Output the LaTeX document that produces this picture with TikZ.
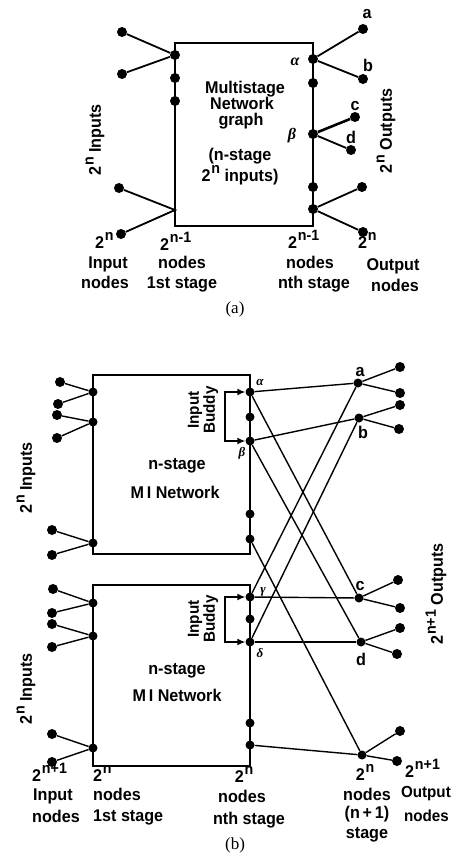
\documentclass[tikz,border=0pt]{standalone}
\usepackage{fontspec}
\setmainfont{Liberation Sans}[FakeStretch=0.95]
\newfontfamily\grk{Liberation Serif}
\newfontfamily\capf{Liberation Serif}
\usetikzlibrary{arrows.meta}
\newcommand{\pw}[1]{\raisebox{0.42em}{\fontsize{15pt}{15pt}\selectfont\kern0.8pt #1}}
\begin{document}
\begin{tikzpicture}[x=1pt,y=-1pt,
  lab/.style={font=\fontsize{17pt}{17pt}\selectfont\bfseries, inner sep=0pt, anchor=base},
  rlab/.style={font=\fontsize{17pt}{17pt}\selectfont\bfseries, inner sep=0pt, rotate=90},
  grklab/.style={font=\grk\bfseries\itshape\fontsize{13pt}{13pt}\selectfont, inner sep=0pt},
  grkA/.style={font=\grk\bfseries\itshape\fontsize{16pt}{16pt}\selectfont, inner sep=0pt},
  caplab/.style={font=\capf\fontsize{17pt}{17pt}\selectfont, inner sep=0pt},
  dotA/.style={circle, fill=black, inner sep=0pt, minimum size=10pt},
  dotB/.style={circle, fill=black, inner sep=0pt, minimum size=9pt},
  wireA/.style={line width=1.8pt},
  wireB/.style={line width=1.4pt},
  boxline/.style={line width=1.5pt},
  buddy/.style={line width=1.4pt, {Latex[length=8pt,width=7pt]}-{Latex[length=8pt,width=7pt]}},
]
\useasboundingbox (0,0) rectangle (452,859);

%%%%%%%%%%%%%%%% (a)
\draw[boxline] (175,43) rectangle (313,226);
\node[dotA] (aL1) at (175,55) {};
\node[dotA] (aL2) at (175,78) {};
\node[dotA] (aL3) at (175,101) {};
\coordinate (aL4) at (175,210);
\node[dotA] (aI1) at (122,32) {};
\node[dotA] (aI2) at (122,74) {};
\node[dotA] (aI3) at (119,188) {};
\node[dotA] (aI4) at (121,234) {};
\draw[wireA] (aI1) -- (aL1) -- (aI2);
\draw[wireA] (aI3) -- (aL4) -- (aI4);

\node[dotA] (aR1) at (313,59) {};
\node[dotA] (aR2) at (313,83) {};
\node[dotA] (aR3) at (313,134) {};
\node[dotA] (aR4) at (313,187) {};
\node[dotA] (aR5) at (313,209) {};
\node[dotA] (aOa) at (363,29) {};
\node[dotA] (aOb) at (363,79) {};
\node[dotA] (aOc) at (355,117) {};
\node[dotA] (aOd) at (351,150) {};
\node[dotA] (aOe) at (362,187) {};
\node[dotA] (aOf) at (363,232) {};
\draw[wireA] (aR1) -- (aOa);
\draw[wireA] (aR1) -- (aOb);
\draw[line width=2.6pt] (aR3) -- (aOc);
\draw[wireA] (aR3) -- (aOd);
\draw[wireA] (aR5) -- (aOe);
\draw[wireA] (aR5) -- (aOf);

\node[lab] (la) at (367,19) {a};
\node[lab] (lb) at (368,71) {b};
\node[lab] (lc) at (355,110) {c};
\node[lab] (ld) at (351,143) {d};
\node[grkA] (lal) at (295,62) {α};
\node[grkA] (lbe) at (292,136) {β};

\node[lab] (t1) at (245,93) {Multistage};
\node[lab] (t2) at (242,109) {Network};
\node[lab] (t3) at (241,125) {graph};
\node[lab] (t4) at (240,160) {(n-stage};
\node[lab] (t5) at (240,181) {2\pw{n} inputs)};

\node[rlab] (ain) at (95,140) {2\pw{n} Inputs};
\node[rlab] (aout) at (386,131) {2\pw{n} Outputs};

\node[lab, anchor=base west] (ab1) at (95,248) {2\pw{n}};
\node[lab] (ab2) at (108,268) {Input};
\node[lab] (ab3) at (105,288) {nodes};
\node[lab, anchor=base west] (ab4) at (160,250) {2\pw{n-1}};
\node[lab] (ab5) at (182,268) {nodes};
\node[lab] (ab6) at (182,288) {1st stage};
\node[lab, anchor=base west] (ab7) at (288,248) {2\pw{n-1}};
\node[lab] (ab8) at (310,268) {nodes};
\node[lab] (ab9) at (314,288) {nth stage};
\node[lab, anchor=base west] (ab10) at (358,248) {2\pw{n}};
\node[lab] (ab11) at (393,270) {Output};
\node[lab] (ab12) at (395,291) {nodes};
\node[caplab] (capa) at (235,309) {(a)};

%%%%%%%%%%%%%%%% (b)
\draw[wireB] (93,375) rectangle (250,554);
\draw[wireB] (93,585) rectangle (250,766);

% upper left
\node[dotB] (uL1) at (93,392) {};
\node[dotB] (uL2) at (93,422) {};
\node[dotB] (uL3) at (93,543) {};
\node[dotA] (uI1) at (60,382) {};
\node[dotA] (uI2) at (58,404) {};
\node[dotA] (uI3) at (57,415) {};
\node[dotA] (uI4) at (57,438) {};
\node[dotA] (uI5) at (52,530) {};
\node[dotA] (uI6) at (52,555) {};
\draw[wireB] (uI1) -- (uL1) -- (uI2);
\draw[wireB] (uI3) -- (uL2) -- (uI4);
\draw[wireB] (uI5) -- (uL3) -- (uI6);

% lower left
\node[dotB] (lL1) at (93,603) {};
\node[dotB] (lL2) at (93,636) {};
\node[dotB] (lL3) at (93,748) {};
\node[dotA] (lI1) at (53,589) {};
\node[dotA] (lI2) at (52,613) {};
\node[dotA] (lI3) at (52,624) {};
\node[dotA] (lI4) at (52,647) {};
\node[dotA] (lI5) at (52,734) {};
\node[dotA] (lI6) at (52,762) {};
\draw[wireB] (lI1) -- (lL1) -- (lI2);
\draw[wireB] (lI3) -- (lL2) -- (lI4);
\draw[wireB] (lI5) -- (lL3) -- (lI6);

% right columns
\node[dotB] (ua) at (250,392) {};
\node[dotB] (ur2) at (250,417) {};
\node[dotB] (ub) at (250,441) {};
\node[dotB] (ur4) at (250,514) {};
\node[dotB] (ur5) at (250,539) {};
\node[dotB] (lg) at (250,597) {};
\node[dotB] (lr2) at (250,619) {};
\node[dotB] (ld) at (250,642) {};
\node[dotB] (lr4) at (250,723) {};
\node[dotB] (lr5) at (250,745) {};

% buddy brackets
\coordinate (ub1) at (225,392);
\coordinate (ub2) at (225,441);
\coordinate (lb1) at (225,597);
\coordinate (lb2) at (225,642);
\draw[buddy] (ua) -- (ub1) -- (ub2) -- (ub);
\draw[buddy] (lg) -- (lb1) -- (lb2) -- (ld);
\node[rlab, font=\fontsize{16pt}{14pt}\selectfont\bfseries, align=center] (bud1) at (203,410) {Input\\Buddy};
\node[rlab, font=\fontsize{16pt}{14pt}\selectfont\bfseries, align=center] (bud2) at (203,619) {Input\\Buddy};

% stage n+1
\node[dotB] (sA) at (358,383) {};
\node[dotB] (sB) at (359,418) {};
\node[dotB] (sC) at (359,598) {};
\node[dotB] (sD) at (361,642) {};
\node[dotB] (sE) at (362,755) {};
\node[dotA] (oA1) at (400,367) {};
\node[dotA] (oA2) at (400,393) {};
\node[dotA] (oB1) at (400,405) {};
\node[dotA] (oB2) at (399,429) {};
\node[dotA] (oC1) at (398,580) {};
\node[dotA] (oC2) at (400,608) {};
\node[dotA] (oD1) at (400,628) {};
\node[dotA] (oD2) at (397,654) {};
\node[dotA] (oE1) at (400,731) {};
\node[dotA] (oE2) at (397,761) {};

\draw[wireB] (ua) -- (sA);
\draw[wireB] (ua) -- (sC);
\draw[wireB] (ub) -- (sB);
\draw[wireB] (ub) -- (sD);
\draw[wireB] (lg) -- (sC);
\draw[wireB] (lg) -- (sA);
\draw[wireB] (ld) -- (sD);
\draw[wireB] (ld) -- (sB);
\draw[wireB] (ur5) -- (sE);
\draw[wireB] (lr5) -- (sE);
\draw[wireB] (oA1) -- (sA) -- (oA2);
\draw[wireB] (oB1) -- (sB) -- (oB2);
\draw[wireB] (oC1) -- (sC) -- (oC2);
\draw[wireB] (oD1) -- (sD) -- (oD2);
\draw[wireB] (oE1) -- (sE) -- (oE2);

% labels
\node[lab] (bla) at (360,376) {a};
\node[lab] (blb) at (363,438) {b};
\node[lab] (blc) at (360,590) {c};
\node[lab] (bld) at (361,665) {d};
\node[grklab] (gal) at (260,382) {α};
\node[grklab] (gbe) at (242,453) {β};
\node[grklab] (gga) at (263,592) {γ};
\node[grklab] (gde) at (260,653) {δ};

\node[lab] (n1) at (177,469) {n-stage};
\node[lab] (n2) at (175,498) {M\,I Network};
\node[lab] (n3) at (177,674) {n-stage};
\node[lab] (n4) at (177,701) {M\,I Network};

\node[rlab] (bin1) at (26,478) {2\pw{n} Inputs};
\node[rlab] (bin2) at (26,689) {2\pw{n} Inputs};
\node[rlab] (bout) at (436,594) {2\pw{n+1} Outputs};

\node[lab, anchor=base west] (bb1) at (32,781) {2\pw{n+1}};
\node[lab, anchor=base west] (bb2) at (33,800) {Input};
\node[lab, anchor=base west] (bb3) at (32,822) {nodes};
\node[lab, anchor=base west] (bb4) at (93,781) {2\pw{n}};
\node[lab, anchor=base west] (bb5) at (93,800) {nodes};
\node[lab, anchor=base west] (bb6) at (93,821) {1st stage};
\node[lab] (bb7) at (244,782) {2\pw{n}};
\node[lab] (bb8) at (242,802) {nodes};
\node[lab] (bb9) at (249,824) {nth stage};
\node[lab] (bb10) at (365,780) {2\pw{n}};
\node[lab] (bb11) at (367,800) {nodes};
\node[lab] (bb12) at (367,818) {(n\,+\,1)};
\node[lab] (bb13) at (367,838) {stage};
\node[lab, anchor=base west] (bb14) at (405,777) {2\pw{n+1}};
\node[lab, anchor=base east, font=\fontsize{16pt}{16pt}\selectfont\bfseries] (bb15) at (451,797) {Output};
\node[lab, anchor=base east, font=\fontsize{16pt}{16pt}\selectfont\bfseries] (bb16) at (449,821) {nodes};
\node[caplab] (capb) at (235,845) {(b)};
\end{tikzpicture}
\end{document}
